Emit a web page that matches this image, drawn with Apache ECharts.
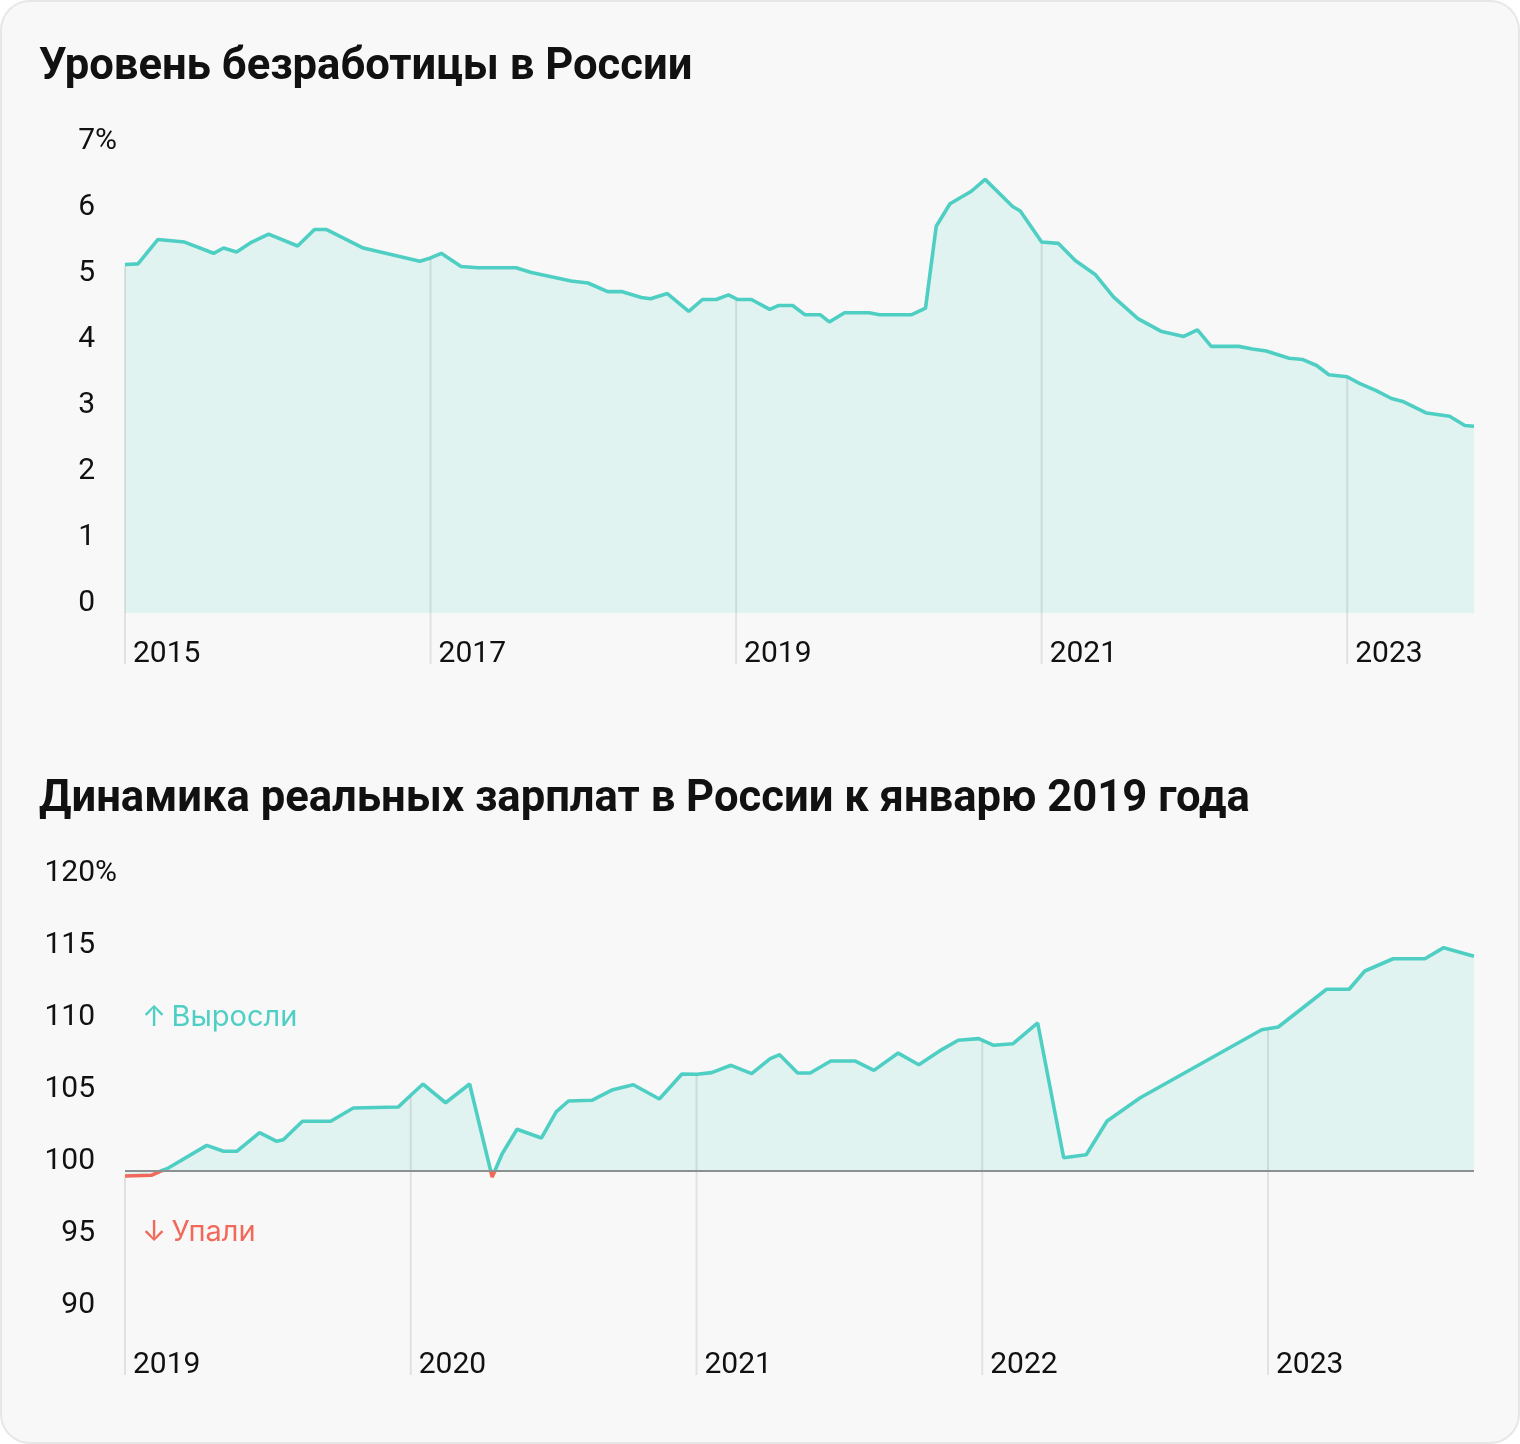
<!DOCTYPE html>
<html>
<head>
<meta charset="utf-8">
<script src="https://cdn.jsdelivr.net/npm/echarts@6/dist/echarts.min.js"></script>
<style>
  html, body { margin: 0; padding: 0; background: #ffffff; }
  #wrap { position: absolute; left: 0; top: 0; width: 1516px; height: 1440px; border: 2px solid #e7e7e7; border-radius: 30px; background: #f8f8f8; overflow: hidden; }
  #chart { width: 1516px; height: 1440px; }
</style>
</head>
<body>
<div id="wrap"><div id="chart"></div></div>
<script>
// ---------- Data: unemployment rate, % (x = decimal year) ----------
const unempX = [2015.00, 2015.085, 2015.216, 2015.39, 2015.58, 2015.645, 2015.73, 2015.83, 2015.94, 2016.13,
  2016.24, 2016.32, 2016.56, 2016.93, 2017.00, 2017.07, 2017.20, 2017.31, 2017.56, 2017.66,
  2017.92, 2018.03, 2018.16, 2018.25, 2018.38, 2018.44, 2018.55, 2018.69, 2018.78, 2018.87,
  2018.95, 2019.01, 2019.10, 2019.22, 2019.28, 2019.37, 2019.45, 2019.55, 2019.61, 2019.71,
  2019.87, 2019.94, 2020.15, 2020.24, 2020.31, 2020.40, 2020.54, 2020.63, 2020.81, 2020.86,
  2021.00, 2021.11, 2021.22, 2021.35, 2021.47, 2021.63, 2021.78, 2021.93, 2022.02, 2022.11,
  2022.29, 2022.38, 2022.47, 2022.62, 2022.71, 2022.80, 2022.88, 2023.00, 2023.08, 2023.19,
  2023.29, 2023.37, 2023.52, 2023.67, 2023.77, 2023.83];
const unempY = [5.28, 5.29, 5.66, 5.62, 5.45, 5.53, 5.47, 5.62, 5.74, 5.56,
  5.81, 5.81, 5.53, 5.33, 5.38, 5.45, 5.25, 5.23, 5.23, 5.16,
  5.03, 5.00, 4.87, 4.87, 4.78, 4.76, 4.84, 4.57, 4.75, 4.75,
  4.82, 4.75, 4.75, 4.60, 4.66, 4.66, 4.52, 4.52, 4.41, 4.55,
  4.55, 4.52, 4.52, 4.62, 5.86, 6.20, 6.39, 6.57, 6.16, 6.09,
  5.62, 5.60, 5.34, 5.13, 4.79, 4.46, 4.27, 4.19, 4.29, 4.04,
  4.04, 4.00, 3.97, 3.86, 3.84, 3.75, 3.61, 3.58, 3.48, 3.37,
  3.25, 3.20, 3.03, 2.98, 2.84, 2.83];

// ---------- Data: real wages, % of January 2019 ----------
const wageX = [2019.000, 2019.092, 2019.123, 2019.147, 2019.286, 2019.345, 2019.391, 2019.471, 2019.531, 2019.554,
  2019.621, 2019.720, 2019.799, 2019.956, 2020.000, 2020.043, 2020.122, 2020.206, 2020.285, 2020.320,
  2020.372, 2020.457, 2020.509, 2020.552, 2020.634, 2020.707, 2020.779, 2020.870, 2020.949, 2021.002,
  2021.053, 2021.121, 2021.193, 2021.258, 2021.291, 2021.354, 2021.398, 2021.470, 2021.554, 2021.621,
  2021.706, 2021.778, 2021.860, 2021.916, 2021.988, 2022.040, 2022.108, 2022.194, 2022.285, 2022.364,
  2022.437, 2022.553, 2022.978, 2023.036, 2023.205, 2023.284, 2023.339, 2023.438, 2023.549, 2023.615,
  2023.721];
const wageY = [99.65, 99.70, 99.98, 100.16, 101.78, 101.37, 101.37, 102.66, 102.06, 102.17,
  103.45, 103.45, 104.38, 104.44, 105.26, 106.04, 104.74, 106.04, 99.58, 101.20,
  102.90, 102.29, 104.10, 104.86, 104.91, 105.65, 105.99, 105.00, 106.74, 106.72,
  106.83, 107.34, 106.76, 107.80, 108.08, 106.81, 106.81, 107.64, 107.64, 106.99,
  108.19, 107.38, 108.45, 109.08, 109.19, 108.73, 108.84, 110.28, 100.92, 101.13,
  103.47, 105.09, 109.81, 110.00, 112.62, 112.62, 113.89, 114.74, 114.74, 115.51,
  114.91];

// ---------- Axis tick settings ----------
const unempYears = [2015, 2017, 2019, 2021, 2023];
const wageYears = [2019, 2020, 2021, 2022, 2023];

const TEAL = '#4fcfc4';
const AREA = '#e0f3f0';
const RED = '#f0695a';
const INK = '#111111';
const TICK_FONT = 'Roboto, "Noto Sans", sans-serif';
const NOTE_FONT = 'Inter, "Noto Sans", sans-serif';

function pairs(xs, ys) { return xs.map((x, i) => [x, ys[i]]); }
function interp(xs, ys, x) {
  for (let i = 0; i < xs.length - 1; i++) {
    if (x >= xs[i] && x <= xs[i + 1]) {
      const t = (x - xs[i]) / (xs[i + 1] - xs[i] || 1);
      return ys[i] + t * (ys[i + 1] - ys[i]);
    }
  }
  return ys[ys.length - 1];
}
function yearMarks(years, xs, ys) { return years.map(y => [y, interp(xs, ys, y)]); }

function vlineRender(yMin, ext) {
  return function (params, api) {
    const p = api.coord([api.value(0), api.value(1)]);
    const b = api.coord([api.value(0), yMin]);
    return {
      type: 'line',
      shape: { x1: p[0], y1: p[1] + 1.5, x2: p[0], y2: b[1] + ext },
      style: { stroke: 'rgba(0,0,0,0.09)', lineWidth: 2 }
    };
  };
}

const chart = echarts.init(document.getElementById('chart'), null, { renderer: 'canvas' });

const yLabel = (maxV) => ({
  show: true,
  fontFamily: TICK_FONT,
  fontSize: 30,
  color: INK,
  align: 'left',
  margin: 90,
  padding: [0, 0, 20, 0],
  formatter: v => v === maxV ? '{n|' + v + '}{p|%}' : '{n|' + v + '}',
  rich: {
    n: { fontFamily: TICK_FONT, fontSize: 30, color: INK, width: 60, align: 'right' },
    p: { fontFamily: TICK_FONT, fontSize: 30, color: INK, align: 'right' }
  }
});

const xLabel = (margin) => ({
  show: true,
  fontFamily: TICK_FONT,
  fontSize: 30,
  color: INK,
  align: 'left',
  padding: [0, 0, 0, 8],
  margin: margin,
  showMaxLabel: false,
  formatter: v => Number.isInteger(v) ? String(v) : ''
});

const option = {
  animation: false,
  backgroundColor: 'transparent',
  title: [
    { text: 'Уровень безработицы в России', left: 32, top: 39,
      textStyle: { fontFamily: 'Roboto, sans-serif', fontWeight: 'bold', fontSize: 43.6, color: INK } },
    { text: 'Динамика реальных зарплат в России к январю 2019 года', left: 32, top: 771,
      textStyle: { fontFamily: 'Roboto, sans-serif', fontWeight: 'bold', fontSize: 43.6, color: INK } }
  ],
  grid: [
    { left: 123, right: 44, top: 149, height: 462 },
    { left: 123, right: 44, top: 881, height: 432 }
  ],
  xAxis: [
    { type: 'value', gridIndex: 0, min: 2015, max: unempX[unempX.length - 1], interval: 2,
      axisLine: { show: false }, axisTick: { show: false }, splitLine: { show: false },
      axisLabel: xLabel(26) },
    { type: 'value', gridIndex: 1, min: 2019, max: wageX[wageX.length - 1], interval: 1,
      axisLine: { show: false }, axisTick: { show: false }, splitLine: { show: false },
      axisLabel: xLabel(35) }
  ],
  yAxis: [
    { type: 'value', gridIndex: 0, min: 0, max: 7, interval: 1,
      axisLine: { show: false }, axisTick: { show: false }, splitLine: { show: false },
      axisLabel: yLabel(7) },
    { type: 'value', gridIndex: 1, min: 90, max: 120, interval: 5,
      axisLine: { show: false }, axisTick: { show: false }, splitLine: { show: false },
      axisLabel: yLabel(120) }
  ],
  visualMap: [{
    show: false,
    type: 'piecewise',
    seriesIndex: 2,
    dimension: 1,
    pieces: [{ gte: 90, lt: 100, color: RED }, { gte: 100, lte: 120, color: TEAL }],
    outOfRange: { color: TEAL }
  }],
  series: [
    { type: 'line', xAxisIndex: 0, yAxisIndex: 0, data: pairs(unempX, unempY),
      showSymbol: false, symbol: 'none', lineStyle: { color: TEAL, width: 3.6 },
      itemStyle: { color: TEAL },
      areaStyle: { color: AREA, opacity: 1 }, z: 2 },
    { type: 'custom', xAxisIndex: 0, yAxisIndex: 0, data: yearMarks(unempYears, unempX, unempY),
      renderItem: vlineRender(0, 51), silent: true, z: 3 },
    { type: 'line', xAxisIndex: 1, yAxisIndex: 1, data: pairs(wageX, wageY),
      showSymbol: false, symbol: 'none', lineStyle: { width: 3.6 },
      areaStyle: { color: AREA, opacity: 1, origin: 100 }, z: 2,
      markLine: { silent: true, symbol: 'none', label: { show: false },
        lineStyle: { color: '#8c908f', width: 2, type: 'solid' },
        data: [{ yAxis: 100 }] } },
    { type: 'custom', xAxisIndex: 1, yAxisIndex: 1, data: yearMarks(wageYears, wageX, wageY),
      renderItem: vlineRender(90, 60), silent: true, z: 3 }
  ],
  graphic: [
    { type: 'text', left: 140, top: 1001, style: { text: '↑\u2009Выросли', fontFamily: NOTE_FONT, fontSize: 29, fill: TEAL } },
    { type: 'text', left: 140, top: 1216, style: { text: '↓\u2009Упали', fontFamily: NOTE_FONT, fontSize: 29, fill: RED } }
  ]
};
chart.setOption(option);
</script>
</body>
</html>
